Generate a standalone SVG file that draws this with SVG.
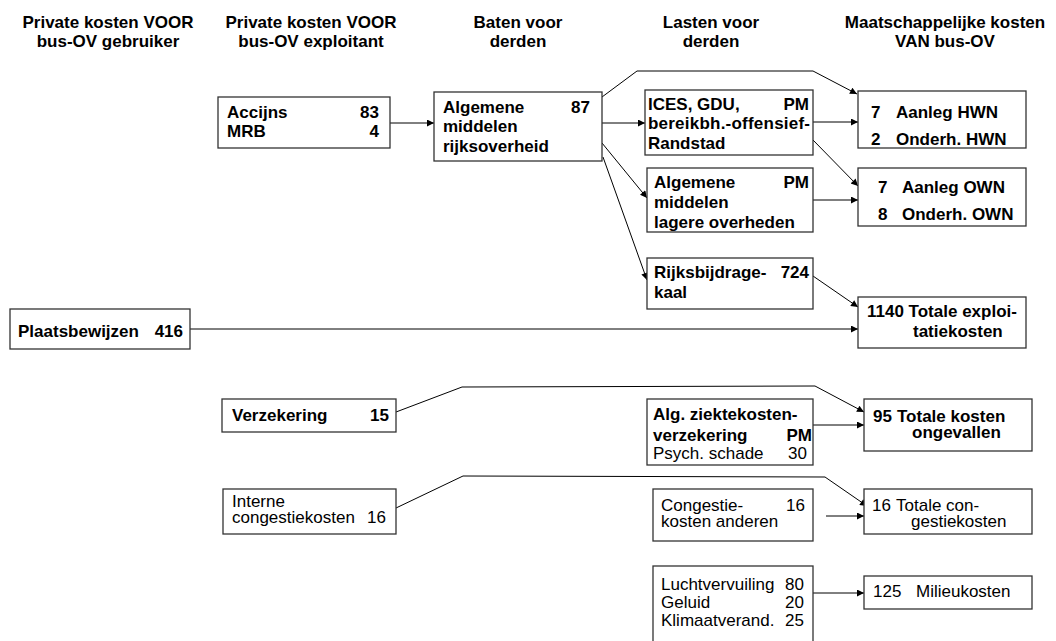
<svg xmlns="http://www.w3.org/2000/svg" width="1056" height="641" viewBox="0 0 1056 641">
<style>
text{font-family:"Liberation Sans",Arial,sans-serif;font-size:17px;fill:#000}
.b{font-weight:bold}
.h{font-weight:bold;text-anchor:middle}
.e{text-anchor:end}
rect{fill:#fff;stroke:#333;stroke-width:1.3}
.c path{fill:none;stroke:#000;stroke-width:1}
</style>
<defs>
<marker id="ah" viewBox="0 0 10 10" refX="10" refY="5" markerWidth="9" markerHeight="7" markerUnits="userSpaceOnUse" orient="auto">
<path d="M0,0 L10,5 L0,10 z" fill="#000"/>
</marker>
</defs>
<rect x="0" y="0" width="1056" height="641" style="stroke:none"/>
<g id="headers">
<text class="h" x="108" y="28">Private kosten VOOR</text>
<text class="h" x="108" y="47">bus-OV gebruiker</text>
<text class="h" x="311" y="28">Private kosten VOOR</text>
<text class="h" x="311" y="47">bus-OV exploitant</text>
<text class="h" x="518" y="28">Baten voor</text>
<text class="h" x="518" y="47">derden</text>
<text class="h" x="711" y="28">Lasten voor</text>
<text class="h" x="711" y="47">derden</text>
<text class="h" x="945" y="28">Maatschappelijke kosten</text>
<text class="h" x="945" y="47">VAN bus-OV</text>
</g>
<g class="c" id="connectors">
<path d="M390,123 L434,123" marker-end="url(#ah)"/>
<path d="M602,123 L645,123" marker-end="url(#ah)"/>
<path d="M602,97 L637,71 L813,71 L857,94" marker-end="url(#ah)"/>
<path d="M813,122 L858,122" marker-end="url(#ah)"/>
<path d="M813,140 L858,186" marker-end="url(#ah)"/>
<path d="M813,200 L858,200" marker-end="url(#ah)"/>
<path d="M602,143 L647,198" marker-end="url(#ah)"/>
<path d="M603,157 L647,280" marker-end="url(#ah)"/>
<path d="M813,276 L858,307" marker-end="url(#ah)"/>
<path d="M190,329 L858,329" marker-end="url(#ah)"/>
<path d="M396,412 L462,387 L815,386 L864,412" marker-end="url(#ah)"/>
<path d="M813,425 L864,425" marker-end="url(#ah)"/>
<path d="M396,508 L463,476 L825,477 L867,506" marker-end="url(#ah)"/>
<path d="M826,516 L864,516" marker-end="url(#ah)"/>
<path d="M813,593 L864,593" marker-end="url(#ah)"/>
</g>
<g id="accijns">
<rect x="218" y="97" width="172" height="51"/>
<text class="b" x="227" y="118">Accijns</text><text class="b e" x="379" y="118">83</text>
<text class="b" x="227" y="137">MRB</text><text class="b e" x="379" y="137">4</text>
</g>
<g id="algemene-rijk">
<rect x="434" y="92" width="168" height="69"/>
<text class="b" x="443" y="113">Algemene</text><text class="b e" x="590" y="113">87</text>
<text class="b" x="443" y="132">middelen</text>
<text class="b" x="443" y="152">rijksoverheid</text>
</g>
<g id="ices">
<rect x="645" y="90" width="168" height="65"/>
<text class="b" x="648" y="110">ICES, GDU,</text><text class="b e" x="809" y="110">PM</text>
<text class="b" x="648" y="129" textLength="162">bereikbh.-offensief-</text>
<text class="b" x="648" y="149">Randstad</text>
</g>
<g id="hwn">
<rect x="858" y="91" width="168" height="57"/>
<text class="b" x="871" y="118">7</text><text class="b" x="896" y="118">Aanleg HWN</text>
<text class="b" x="871" y="145">2</text><text class="b" x="896" y="145">Onderh. HWN</text>
</g>
<g id="algemene-lager">
<rect x="647" y="168" width="166" height="64"/>
<text class="b" x="654" y="188">Algemene</text><text class="b e" x="809" y="188">PM</text>
<text class="b" x="654" y="208">middelen</text>
<text class="b" x="654" y="228">lagere overheden</text>
</g>
<g id="own">
<rect x="858" y="168" width="168" height="58"/>
<text class="b" x="878" y="193">7</text><text class="b" x="902" y="193">Aanleg OWN</text>
<text class="b" x="878" y="220">8</text><text class="b" x="902" y="220">Onderh. OWN</text>
</g>
<g id="rijksbijdrage">
<rect x="647" y="258" width="166" height="51"/>
<text class="b" x="654" y="278">Rijksbijdrage-</text><text class="b e" x="809" y="278">724</text>
<text class="b" x="654" y="298">kaal</text>
</g>
<g id="exploitatie">
<rect x="858" y="297" width="168" height="51"/>
<text class="b" x="867" y="317">1140 Totale exploi-</text>
<text class="b" x="913" y="337">tatiekosten</text>
</g>
<g id="plaatsbewijzen">
<rect x="10" y="309" width="180" height="40"/>
<text class="b" x="18" y="337">Plaatsbewijzen</text><text class="b e" x="183" y="337">416</text>
</g>
<g id="verzekering">
<rect x="222" y="399" width="174" height="33"/>
<text class="b" x="232" y="421">Verzekering</text><text class="b e" x="389" y="421">15</text>
</g>
<g id="ongevallen">
<rect x="864" y="399" width="168" height="52"/>
<text class="b" x="873" y="422">95</text><text class="b" x="897" y="422">Totale kosten</text>
<text class="b" x="912" y="438">ongevallen</text>
</g>
<g id="ziektekosten">
<rect x="647" y="399" width="166" height="66"/>
<text class="b" x="653" y="420">Alg. ziektekosten-</text>
<text class="b" x="653" y="441">verzekering</text><text class="b e" x="812" y="441">PM</text>
<text x="653" y="459">Psych. schade</text><text class="e" x="807" y="459">30</text>
</g>
<g id="interne-congestie">
<rect x="223" y="489" width="173" height="45"/>
<text x="232" y="507">Interne</text>
<text x="232" y="523">congestiekosten</text><text class="e" x="386" y="523">16</text>
</g>
<g id="congestie-anderen">
<rect x="653" y="489" width="160" height="52"/>
<text x="661" y="511">Congestie-</text><text class="e" x="805" y="511">16</text>
<text x="661" y="527">kosten anderen</text>
</g>
<g id="totale-congestie">
<rect x="864" y="489" width="168" height="45"/>
<text x="872" y="511">16</text><text x="896" y="511">Totale con-</text>
<text x="911" y="527">gestiekosten</text>
</g>
<g id="milieu">
<rect x="653" y="566" width="160" height="100"/>
<text x="661" y="590">Luchtvervuiling</text><text class="e" x="804" y="590">80</text>
<text x="661" y="608">Geluid</text><text class="e" x="804" y="608">20</text>
<text x="661" y="626">Klimaatverand.</text><text class="e" x="804" y="626">25</text>
</g>
<g id="milieukosten">
<rect x="864" y="576" width="168" height="33"/>
<text x="873" y="597">125</text><text x="916" y="597">Milieukosten</text>
</g>
</svg>
